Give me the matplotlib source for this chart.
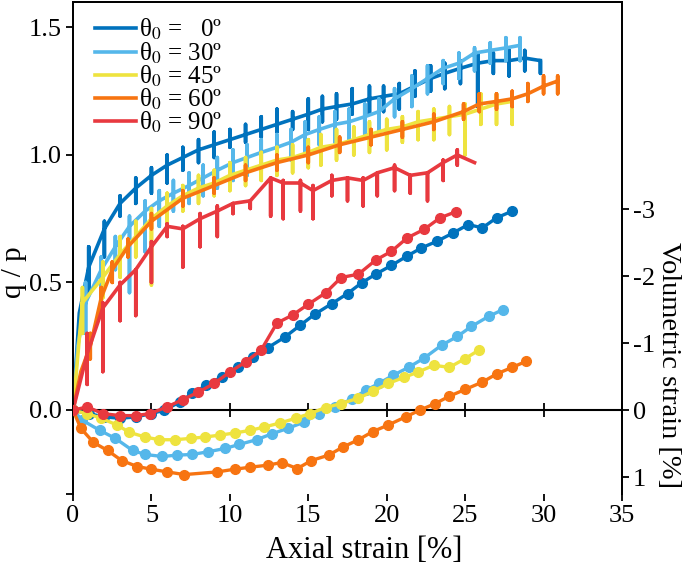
import numpy as np
import matplotlib
matplotlib.use("Agg")
import matplotlib.pyplot as plt

plt.rcParams['font.family'] = ['Liberation Serif', 'DejaVu Serif']
plt.rcParams['mathtext.fontset'] = 'stix'
plt.rcParams['axes.unicode_minus'] = False
plt.rcParams['font.size'] = 18

# - - - - - - - - - - - - - - - - - - - - - - - - - - - - - - - - - - - - - - - - - - #
labels = ['θ$_0$ =   0º', 'θ$_0$ = 30º', 'θ$_0$ = 45º', 'θ$_0$ = 60º', 'θ$_0$ = 90º']
colors = ['#0072BD', '#55B7EA', '#EEE33F', '#F77411', '#E8393F']

# q/p curves: base value at each cycle, plus top/bottom of the unload-reload spike
qp0_x = [0, 0.4, 1.0, 2.0, 3.0, 4.0, 5.0, 6.0, 7.0, 8.0, 9.0, 10.0, 11.0, 12.0, 13.0, 14.0, 15.0,
         15.9, 16.8, 17.8, 18.9, 19.8, 20.8, 21.8, 22.8, 23.7, 24.7, 25.8, 26.8, 27.8, 28.8, 29.8]
qp0_base = [0, 0.38, 0.56, 0.71, 0.81, 0.87, 0.92, 0.96, 0.99, 1.02, 1.04, 1.06, 1.08, 1.10, 1.12, 1.14, 1.16,
            1.18, 1.19, 1.20, 1.22, 1.23, 1.24, 1.27, 1.30, 1.32, 1.34, 1.36, 1.37, 1.37, 1.38, 1.37]
qp0_top = [0, 0.38, 0.64, 0.74, 0.84, 0.91, 0.95, 1.00, 1.03, 1.06, 1.09, 1.10, 1.12, 1.15, 1.18, 1.17, 1.22,
           1.23, 1.24, 1.26, 1.27, 1.27, 1.28, 1.33, 1.35, 1.36, 1.37, 1.40, 1.40, 1.41, 1.41, 1.37]
qp0_bot = [0, 0.38, 0.45, 0.60, 0.76, 0.81, 0.85, 0.89, 0.94, 0.97, 0.99, 1.03, 1.05, 1.07, 1.09, 1.10, 1.10,
           1.13, 1.14, 1.16, 1.16, 1.17, 1.18, 1.23, 1.25, 1.26, 1.28, 1.19, 1.32, 1.31, 1.33, 1.32]

qp30_x = [0, 0.3, 0.8, 1.8, 2.7, 3.6, 4.6, 5.5, 6.4, 7.4, 8.3, 9.2, 10.2, 11.1, 12.0, 13.0, 13.9, 14.8,
          15.7, 16.7, 17.6, 18.6, 19.5, 20.5, 21.6, 22.6, 23.6, 24.6, 25.6, 26.6, 27.6, 28.5]
qp30_base = [0, 0.25, 0.42, 0.55, 0.64, 0.72, 0.78, 0.82, 0.85, 0.88, 0.91, 0.94, 0.97, 0.99, 1.01, 1.03, 1.05, 1.08,
             1.10, 1.12, 1.13, 1.15, 1.17, 1.22, 1.26, 1.30, 1.34, 1.36, 1.40, 1.41, 1.42, 1.43]
qp30_top = [0, 0.25, 0.50, 0.60, 0.68, 0.76, 0.82, 0.86, 0.90, 0.93, 0.96, 0.99, 1.02, 1.04, 1.06, 1.08, 1.10, 1.13,
            1.15, 1.17, 1.18, 1.20, 1.22, 1.26, 1.31, 1.35, 1.37, 1.40, 1.42, 1.44, 1.46, 1.46]
qp30_bot = [0, 0.25, 0.30, 0.42, 0.55, 0.46, 0.62, 0.72, 0.78, 0.81, 0.84, 0.87, 0.90, 0.92, 0.94, 0.96, 0.98, 1.01,
            1.04, 1.05, 1.06, 1.08, 1.10, 1.15, 1.19, 1.24, 1.28, 1.30, 1.33, 1.36, 1.37, 1.37]

qp45_x = [0, 0.6, 1.9, 3.0, 4.0, 5.0, 6.0, 7.0, 8.0, 9.0, 10.0, 11.0, 12.0, 13.0, 14.0, 15.0,
          15.8, 16.8, 17.9, 18.9, 20.0, 21.0, 22.0, 23.0, 24.0, 25.0, 26.0, 27.0, 28.0]
qp45_base = [0, 0.42, 0.52, 0.61, 0.68, 0.75, 0.80, 0.84, 0.87, 0.89, 0.92, 0.94, 0.96, 0.98, 0.99, 1.01,
             1.03, 1.04, 1.06, 1.08, 1.10, 1.11, 1.13, 1.14, 1.15, 1.16, 1.18, 1.20, 1.21]
qp45_top = [0, 0.48, 0.58, 0.68, 0.74, 0.79, 0.85, 0.88, 0.92, 0.94, 0.97, 0.99, 1.01, 1.03, 1.04, 1.06,
            1.08, 1.10, 1.11, 1.13, 1.14, 1.15, 1.17, 1.18, 1.19, 1.20, 1.24, 1.24, 1.23]
qp45_bot = [0, 0.30, 0.44, 0.52, 0.60, 0.49, 0.72, 0.78, 0.81, 0.84, 0.86, 0.88, 0.90, 0.92, 0.93, 0.95,
            0.96, 0.98, 1.00, 1.01, 1.02, 1.05, 1.06, 1.06, 1.08, 1.00, 1.12, 1.12, 1.12]

qp60_x = [0, 0.5, 1.1, 1.8, 2.5, 3.5, 5.0, 7.0, 9.0, 11.0, 13.0, 15.0, 17.0, 19.0, 21.0, 23.0,
          24.9, 25.9, 27.0, 28.0, 29.0, 30.0, 30.9]
qp60_base = [0, 0.15, 0.25, 0.44, 0.55, 0.64, 0.74, 0.83, 0.88, 0.93, 0.97, 1.00, 1.04, 1.07, 1.10, 1.13,
             1.17, 1.20, 1.21, 1.22, 1.24, 1.27, 1.29]
qp60_top = [0, 0.15, 0.30, 0.48, 0.58, 0.67, 0.77, 0.86, 0.91, 0.96, 1.00, 1.03, 1.07, 1.10, 1.13, 1.16,
            1.20, 1.24, 1.24, 1.25, 1.28, 1.31, 1.31]
qp60_bot = [0, 0.15, 0.20, 0.38, 0.50, 0.60, 0.71, 0.80, 0.85, 0.90, 0.94, 0.97, 1.01, 1.04, 1.07, 1.10,
            1.14, 1.17, 1.18, 1.19, 1.21, 1.24, 1.24]

qp90_x = [0, 0.9, 1.9, 3.0, 4.0, 5.0, 6.0, 7.0, 8.1, 9.2, 10.2, 11.3, 12.6, 13.4, 14.5, 15.3,
          16.5, 17.5, 18.5, 19.4, 20.5, 21.5, 22.6, 23.6, 24.5, 25.6]
qp90_base = [0, 0.22, 0.40, 0.49, 0.55, 0.64, 0.72, 0.71, 0.75, 0.78, 0.81, 0.82, 0.91, 0.89, 0.89, 0.86,
             0.90, 0.91, 0.90, 0.93, 0.95, 0.92, 0.93, 0.97, 1.00, 0.97]
qp90_top = [0, 0.30, 0.42, 0.50, 0.55, 0.66, 0.73, 0.72, 0.77, 0.80, 0.81, 0.82, 0.91, 0.90, 0.90, 0.88,
            0.92, 0.91, 0.91, 0.93, 0.96, 0.92, 0.93, 0.98, 1.02, 0.97]
qp90_bot = [0, 0.10, 0.15, 0.35, 0.37, 0.50, 0.68, 0.56, 0.64, 0.68, 0.77, 0.79, 0.76, 0.75, 0.78, 0.75,
            0.84, 0.82, 0.80, 0.84, 0.86, 0.85, 0.82, 0.90, 0.96, 0.97]

# volumetric strain [%] (positive = compression)
ev0_x = [0, 1, 2, 3, 4, 5, 5.8, 6.8, 7.6, 8.5, 9.5, 10.5, 11.5, 12.4, 13.5, 14.5, 15.4, 16.5, 17.5,
         18.4, 19.3, 20.3, 21.3, 22.2, 23.2, 24.2, 25.2, 26.1, 27.0, 28.0]
ev0 = [0, 0.05, 0.1, 0.12, 0.1, 0.05, 0, -0.12, -0.25, -0.37, -0.5, -0.64, -0.8, -0.93, -1.09, -1.27, -1.43,
       -1.59, -1.74, -1.9, -2.03, -2.16, -2.3, -2.42, -2.52, -2.64, -2.77, -2.72, -2.87, -2.97]

ev30_x = [0, 0.6, 1.7, 2.7, 3.8, 4.6, 5.7, 6.6, 7.6, 8.6, 9.7, 10.6, 11.7, 12.7, 13.7, 14.7, 15.7, 16.7,
          17.8, 18.7, 19.5, 20.4, 21.4, 22.4, 23.5, 24.5, 25.4, 26.5, 27.4]
ev30 = [0, 0.15, 0.3, 0.42, 0.6, 0.66, 0.69, 0.67, 0.66, 0.62, 0.57, 0.51, 0.44, 0.35, 0.27, 0.18, 0.05, -0.05,
        -0.17, -0.3, -0.4, -0.52, -0.64, -0.78, -0.97, -1.1, -1.25, -1.4, -1.5]

ev45_x = [0, 0.9, 1.8, 2.8, 3.6, 4.6, 5.5, 6.5, 7.5, 8.4, 9.4, 10.3, 11.3, 12.2, 13.2, 14.2, 15.1, 16.1,
          17.1, 18.2, 19.1, 20.1, 21.1, 22.0, 23.0, 24.0, 25.0, 25.9]
ev45 = [0, 0.05, 0.12, 0.22, 0.33, 0.4, 0.44, 0.44, 0.42, 0.4, 0.37, 0.34, 0.3, 0.25, 0.19, 0.12, 0.05, -0.04,
        -0.1, -0.18, -0.28, -0.4, -0.49, -0.57, -0.67, -0.64, -0.77, -0.9]

ev60_x = [0, 0.5, 1.3, 2.2, 3.1, 4.1, 5.0, 6.0, 7.1, 9.2, 10.3, 11.3, 12.4, 13.3, 14.3, 15.2, 16.3, 17.2,
          18.2, 19.1, 20.1, 21.2, 22.1, 23.1, 24.0, 25.0, 26.1, 27.0, 28.0, 28.9]
ev60 = [0, 0.27, 0.48, 0.6, 0.75, 0.84, 0.88, 0.92, 0.96, 0.92, 0.88, 0.85, 0.82, 0.78, 0.87, 0.75, 0.67, 0.55,
        0.44, 0.32, 0.22, 0.1, 0.0, -0.1, -0.21, -0.31, -0.42, -0.54, -0.64, -0.73]

ev90_x = [0, 0.9, 1.9, 3.0, 4.0, 4.9, 6.0, 7.0, 8.0, 9.0, 10.0, 11.0, 12.0, 13.0, 14.0, 15.0, 16.1, 17.1,
          18.2, 19.3, 20.3, 21.3, 22.4, 23.4, 24.4]
ev90 = [0, -0.05, 0.05, 0.08, 0.08, 0.05, -0.05, -0.16, -0.27, -0.4, -0.57, -0.72, -0.9, -1.3, -1.42, -1.58,
        -1.75, -1.98, -2.03, -2.24, -2.37, -2.57, -2.7, -2.87, -2.96]
# - - - - - - - - - - - - - - - - - - - - - - - - - - - - - - - - - - - - - - - - - - #

def spike_path(xs, base, top, bot):
    px, py = [], []
    for x, b, t, d in zip(xs, base, top, bot):
        px += [x, x, x, x]
        py += [b, t, d, b]
    return px, py

qp_sets = [(qp0_x, qp0_base, qp0_top, qp0_bot),
           (qp30_x, qp30_base, qp30_top, qp30_bot),
           (qp45_x, qp45_base, qp45_top, qp45_bot),
           (qp60_x, qp60_base, qp60_top, qp60_bot),
           (qp90_x, qp90_base, qp90_top, qp90_bot)]
ev_sets = [(ev0_x, ev0), (ev30_x, ev30), (ev45_x, ev45), (ev60_x, ev60), (ev90_x, ev90)]
draw_order = [0, 1, 3, 2, 4]

fig = plt.figure(figsize=(6.85, 5.67), dpi=100)
ax = fig.add_axes([0.1066, 0.1287, 0.8014, 0.8678])
ax2 = ax.twinx()

handles = [None] * 5
for k in draw_order:
    px, py = spike_path(*qp_sets[k])
    ln, = ax.plot(px, py, color=colors[k], lw=2.6, solid_joinstyle='round', zorder=3 + k)
    handles[k] = ln
    ex, ev = ev_sets[k]
    ax2.plot(ex, ev, color=colors[k], lw=2.4, marker='o', ms=7, zorder=3 + k)

ax.set_xlim(0, 35)
ax.set_ylim(-0.33, 1.6)
ax2.set_ylim(1.25, -6.09)

ax.set_xticks(np.arange(0, 36, 5))
ax.set_yticks([-0.33, 0, 0.5, 1.0, 1.5])
ax.set_yticklabels(['', '0.0', '0.5', '1.0', '1.5'])
ax2.set_yticks([-3, -2, -1, 0, 1])
ax2.set_yticklabels(['-3', '-2', '-1', '0', '1'])

ax.spines['bottom'].set_visible(False)
ax2.spines['bottom'].set_position(('data', 0))
ax2.spines['bottom'].set_linewidth(1.5)
ax2.xaxis.set_visible(True)
ax2.tick_params(axis='x', direction='inout', length=10, width=1.3, labelbottom=False, top=False)

for s in ['left', 'right', 'top']:
    ax.spines[s].set_linewidth(1.3)
    ax2.spines[s].set_linewidth(1.3)
ax.tick_params(axis='both', direction='out', length=5, width=1.3, labelsize=19, pad=3)
ax2.tick_params(axis='y', direction='out', length=5, width=1.3, labelsize=19, pad=3)

ax.set_xlabel('Axial strain [%]', fontsize=22)
ax.xaxis.set_label_coords(0.53, -0.114)
ax.xaxis.label.set_va('center')
ax.set_ylabel('q / p', fontsize=21)
ax.yaxis.set_label_coords(-0.1075, 0.45)
ax.yaxis.label.set_va('center')
ax2.set_ylabel('Volumetric strain [%]', fontsize=20.5, rotation=270)
ax2.yaxis.set_label_coords(1.0852, 0.262)
ax2.yaxis.label.set_va('center')
ax2.yaxis.label.set_ha('center')

ax.legend(handles, labels, loc='upper left', frameon=False, fontsize=18,
          handlelength=1.65, handletextpad=0.12, labelspacing=-0.08,
          borderaxespad=0.2, bbox_to_anchor=(0.012, 1.0))

fig.savefig('out.png', dpi=100)
